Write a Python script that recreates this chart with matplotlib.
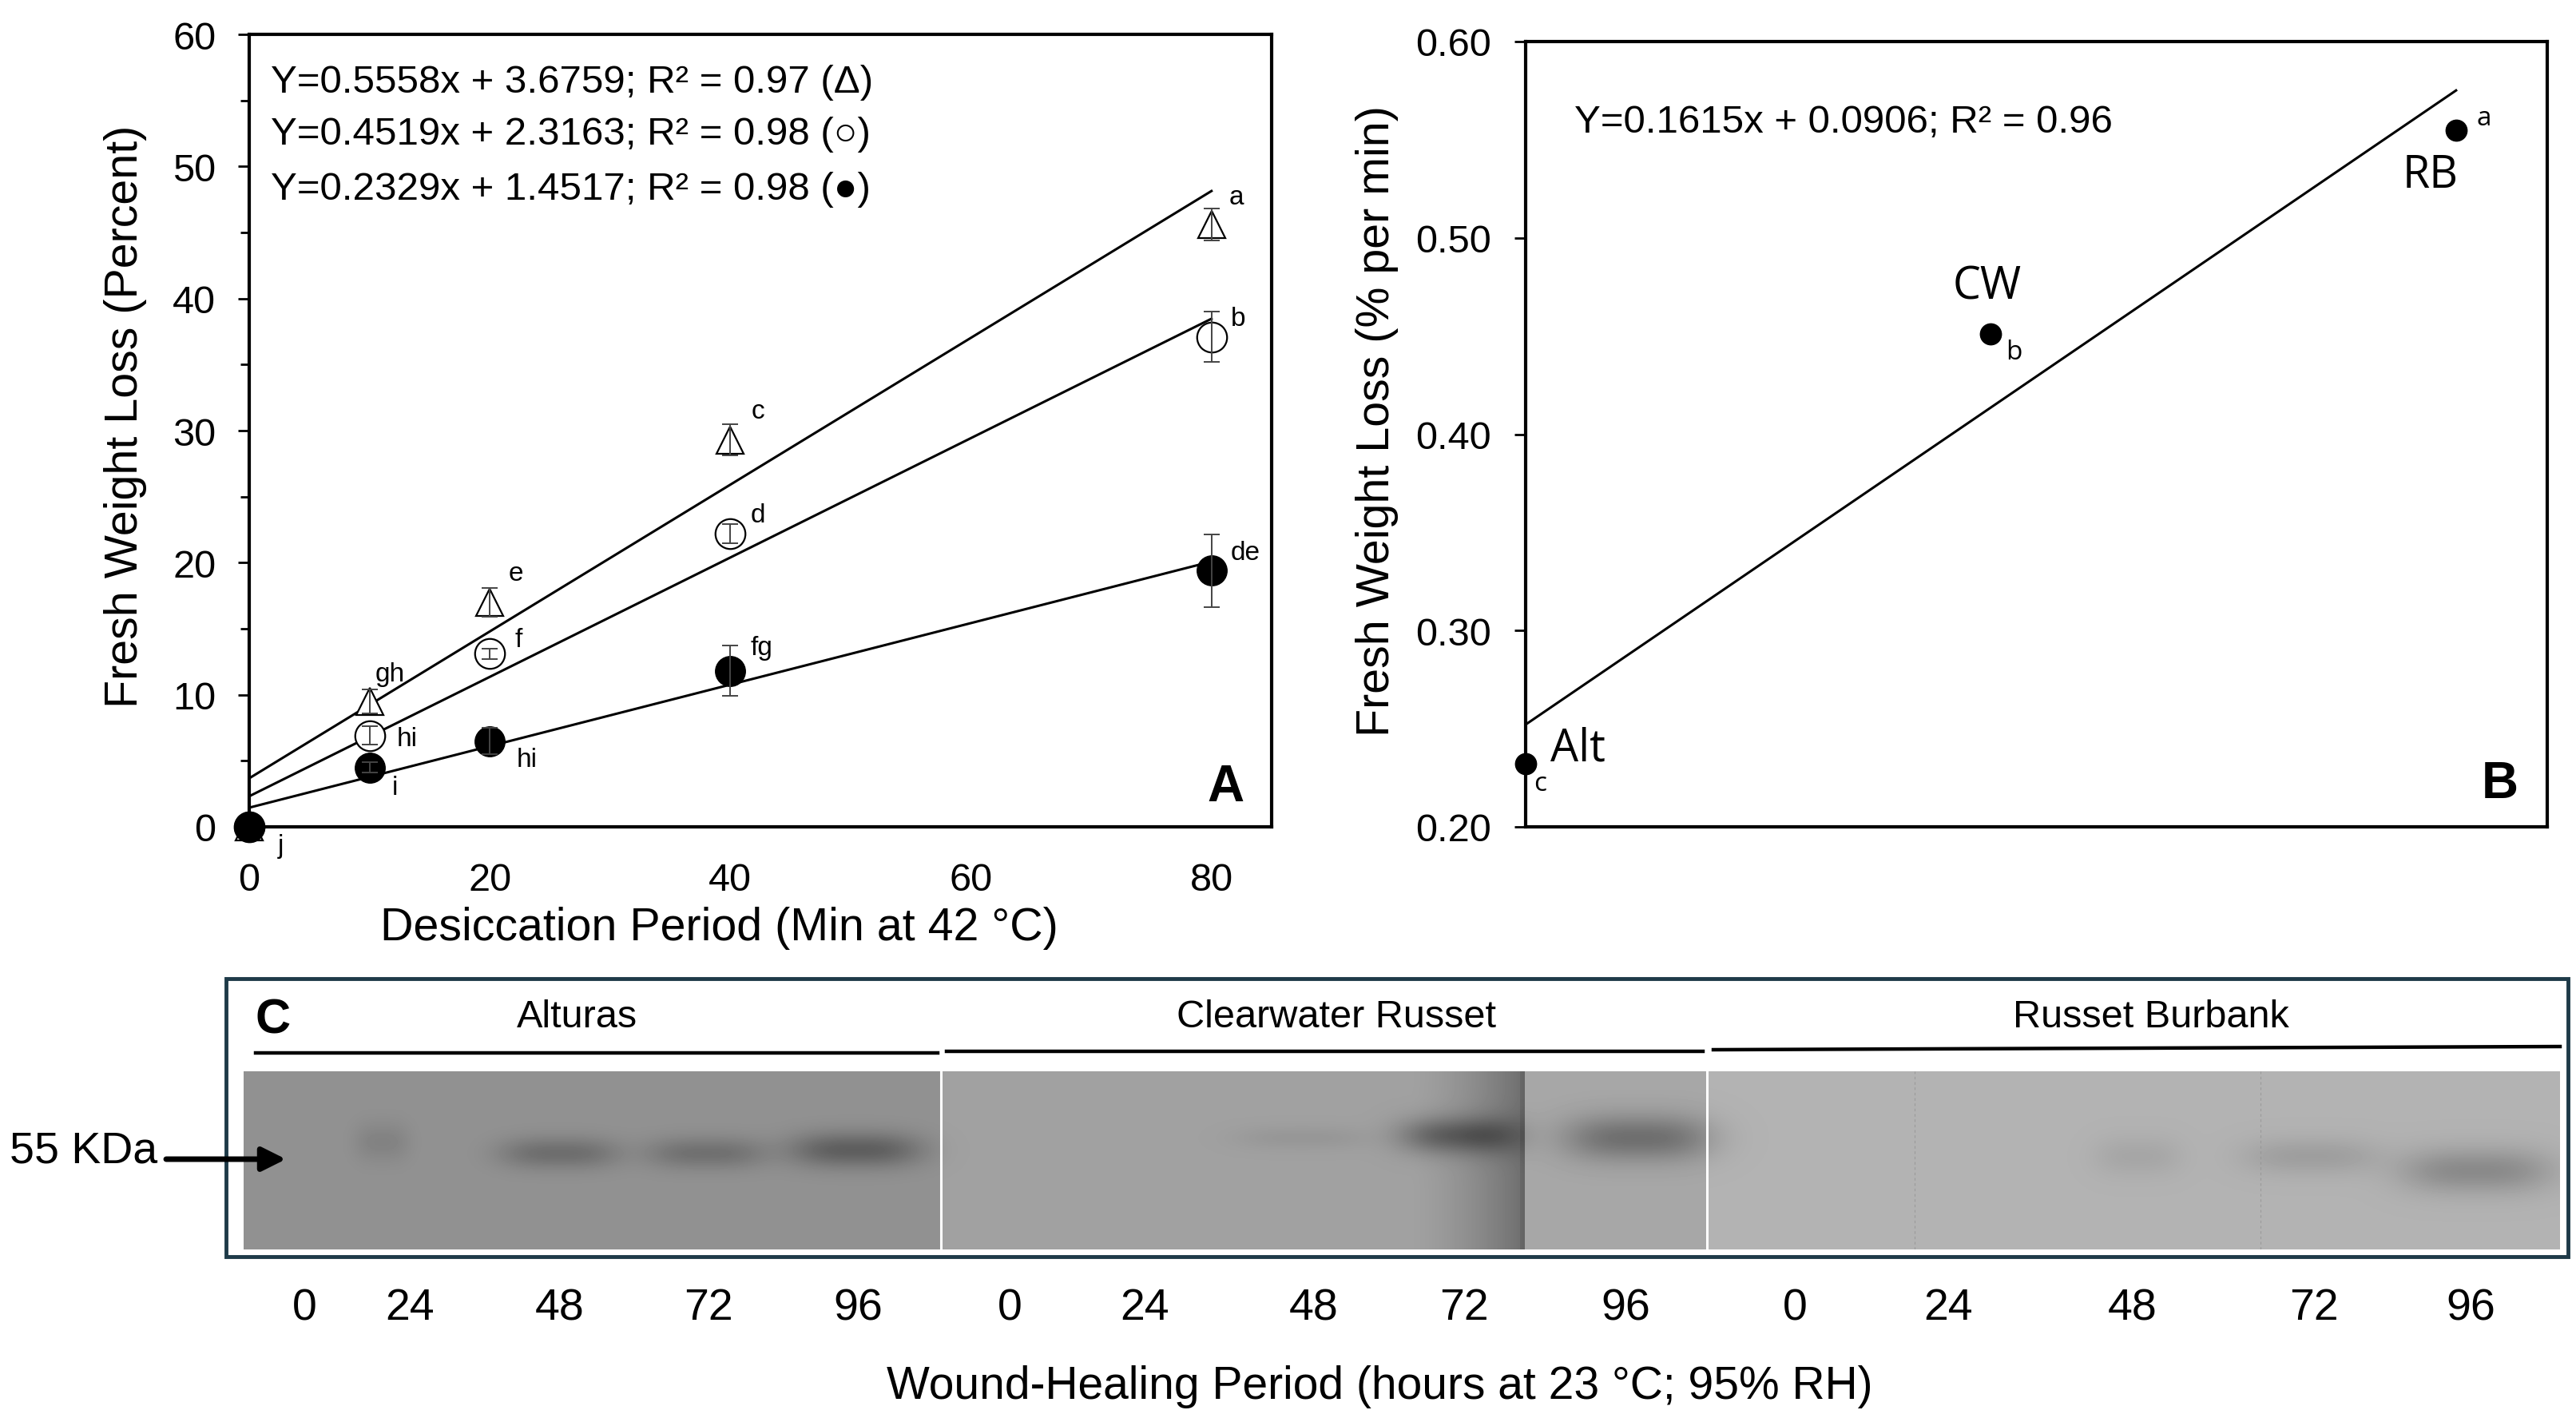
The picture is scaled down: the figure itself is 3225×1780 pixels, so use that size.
import numpy as np
import matplotlib
matplotlib.use('Agg')
import matplotlib.pyplot as plt
from matplotlib.patches import Rectangle
from matplotlib.lines import Line2D
from matplotlib.ticker import MultipleLocator

plt.rcParams['font.family'] = ['Liberation Sans', 'DejaVu Sans']

# ---------------- Panel A data ----------------
desic_min = [0, 10, 20, 40, 80]
tri_loss = [0, 9.5, 17.0, 29.3, 45.6]
tri_err = [0, 0.9, 1.1, 1.2, 1.2]
open_loss = [0, 6.9, 13.1, 22.2, 37.1]
open_err = [0, 0.7, 0.4, 0.75, 1.9]
fill_loss = [0, 4.5, 6.5, 11.8, 19.4]
fill_err = [0, 0.4, 1.0, 1.9, 2.75]
slopes_A = [0.5558, 0.4519, 0.2329]
intercepts_A = [3.6759, 2.3163, 1.4517]
eq_A = ["Y=0.5558x + 3.6759; R² = 0.97 (Δ)",
        "Y=0.4519x + 2.3163; R² = 0.98 (○)",
        "Y=0.2329x + 1.4517; R² = 0.98 (●)"]
letters_A = ['gh', 'e', 'c', 'a', 'hi', 'f', 'd', 'b', 'j', 'i', 'hi', 'fg', 'de']
letters_A_x = [11.7, 22.2, 42.3, 82.1, 13.1, 22.4, 42.3, 82.2, 2.65, 12.1, 23.1, 42.6, 82.8]
letters_A_y = [11.6, 19.2, 31.5, 47.7, 6.7, 14.2, 23.6, 38.5, -1.4, 3.0, 5.1, 13.6, 20.8]

# ---------------- Panel B data ----------------
cultivars = ['Alt', 'CW', 'RB']
cult_x = [1, 2, 3]
rate = [0.232, 0.451, 0.555]
grades_B = ['c', 'b', 'a']
slope_B = 0.1615
intercept_B = 0.0906
cult_lab_x = [1.113, 1.992, 2.945]
cult_lab_y = [0.240, 0.475, 0.532]
grade_lab_x = [1.031, 2.049, 3.06]
grade_lab_y = [0.222, 0.442, 0.561]

# ---------------- Panel C data ----------------
section_names = ['Alturas', 'Clearwater Russet', 'Russet Burbank']
lane_hours = ['0', '24', '48', '72', '96'] * 3
lane_pos = [76, 208, 396, 582, 769, 959, 1128, 1340, 1528, 1730, 1942, 2134, 2365, 2592, 2788]
section_edges = [0, 873, 1832, 2900]
section_gray = [0.57, 0.63, 0.70]
band_x = [173, 395, 579, 766, 1325, 1521, 1745, 2371, 2588, 2795]
band_y = [88, 102, 102, 98, 83, 80, 83, 106, 106, 124]
band_w = [70, 150, 150, 165, 170, 150, 185, 110, 170, 190]
band_h = [50, 40, 40, 44, 30, 46, 58, 50, 46, 56]
band_depth = [0.06, 0.14, 0.13, 0.20, 0.04, 0.24, 0.22, 0.05, 0.08, 0.16]

W_PX, H_PX = 3225, 1781
fig = plt.figure(figsize=(W_PX / 100, H_PX / 100), dpi=100)


def fx(p):
    return p / W_PX


def fy(p):
    return 1 - p / H_PX


# ================= Panel A =================
axA = fig.add_axes([fx(312), fy(1036), (1592 - 312) / W_PX, (1036 - 44) / H_PX])
xl = np.array([0, 80])
for s, b in zip(slopes_A, intercepts_A):
    axA.plot(xl, s * xl + b, color='black', lw=2.2, zorder=2)
axA.plot(desic_min, tri_loss, ls='none', marker='^', ms=25, mfc='white', mec='black',
         mew=1.6, clip_on=False, zorder=3)
axA.plot(desic_min, open_loss, ls='none', marker='o', ms=27, mfc='white', mec='black',
         mew=1.6, clip_on=False, zorder=4)
axA.plot(desic_min, fill_loss, ls='none', marker='o', ms=27, mfc='black', mec='black',
         mew=1.0, clip_on=False, zorder=5)
for yv, ev in [(tri_loss, tri_err), (open_loss, open_err), (fill_loss, fill_err)]:
    axA.errorbar(desic_min[1:], yv[1:], yerr=ev[1:], fmt='none', ecolor='#444444',
                 elinewidth=1.4, capsize=7, capthick=1.4, zorder=6)
axA.set_xlim(0, 85)
axA.set_ylim(0, 60)
axA.set_xticks([0, 20, 40, 60, 80])
axA.set_yticks([0, 10, 20, 30, 40, 50, 60])
axA.yaxis.set_minor_locator(MultipleLocator(5))
axA.tick_params(axis='y', which='major', direction='out', length=10, width=2,
                labelsize=35, pad=20)
axA.tick_params(axis='y', which='minor', direction='out', length=8, width=2)
axA.tick_params(axis='x', which='major', length=0, labelsize=35, pad=32)
for sp in axA.spines.values():
    sp.set_linewidth(3)
axA.set_xlabel('Desiccation Period (Min at 42 °C)', fontsize=41.3)
axA.set_ylabel('Fresh Weight Loss (Percent)', fontsize=41.3)
axA.xaxis.set_label_coords(0.46, -0.100)
axA.yaxis.set_label_coords(-0.100, 0.519)
for i, t in enumerate(eq_A):
    axA.text(0.021, [0.9405, 0.874, 0.805][i], t, transform=axA.transAxes,
             fontsize=35.5, ha='left', va='center')
for t, x, y in zip(letters_A, letters_A_x, letters_A_y):
    axA.text(x, y, t, fontsize=24, ha='center', va='center', clip_on=False)
axA.text(0.955, 0.050, 'A', transform=axA.transAxes, fontsize=46, fontweight='bold',
         ha='center', va='center')

# ================= Panel B =================
axB = fig.add_axes([fx(1910), fy(1036), (3189 - 1910) / W_PX, (1036 - 53) / H_PX])
xb = np.array([1, 3])
axB.plot(xb, slope_B * xb + intercept_B, color='black', lw=2.2, zorder=2)
axB.plot(cult_x, rate, ls='none', marker='o', ms=19, color='black', clip_on=False, zorder=4)
axB.set_xlim(1, 3.196)
axB.set_ylim(0.2, 0.6)
axB.set_yticks([0.2, 0.3, 0.4, 0.5, 0.6])
axB.set_yticklabels(['0.20', '0.30', '0.40', '0.50', '0.60'])
axB.set_xticks([])
axB.tick_params(axis='y', direction='out', length=10, width=2, labelsize=35, pad=21)
for sp in axB.spines.values():
    sp.set_linewidth(3)
axB.set_ylabel('Fresh Weight Loss (% per min)', fontsize=41.3)
axB.yaxis.set_label_coords(-0.124, 0.518)
axB.text(0.048, 0.898, 'Y=0.1615x + 0.0906; R² = 0.96', transform=axB.transAxes,
         fontsize=35.5, ha='left', va='center')
for t, x, y in zip(cultivars, cult_lab_x, cult_lab_y):
    axB.text(x, y, t, fontsize=40, family=['Open Sans', 'DejaVu Sans'],
             ha='center', va='center')
for t, x, y in zip(grades_B, grade_lab_x, grade_lab_y):
    axB.text(x, y, t, fontsize=24, family=['Open Sans', 'DejaVu Sans'],
             ha='center', va='center', clip_on=False)
axB.text(0.954, 0.055, 'B', transform=axB.transAxes, fontsize=46, fontweight='bold',
         ha='center', va='center')

# ================= Panel C =================
GW, GH = section_edges[-1], 223
gel = fig.add_axes([fx(305), fy(1565), (3205 - 305) / W_PX, (1565 - 1342) / H_PX])
yy, xx = np.mgrid[0:GH, 0:GW].astype(float)
img = np.zeros((GH, GW))
for k in range(3):
    img[:, section_edges[k]:section_edges[k + 1]] = section_gray[k]
# Clearwater darkening towards the 72/96 lane seam, lighter 96 lane
seam = 1604
ramp = np.clip((xx - 1460) / (seam - 1460), 0, 1) ** 1.5
img -= 0.2 * ramp * (xx < seam)
img[:, seam:section_edges[2]] = 0.655
img[:, seam - 6:seam] -= 0.04
for cx, cy, w, h, d in zip(band_x, band_y, band_w, band_h, band_depth):
    img -= d * np.exp(-np.abs((xx - cx) / (w / 2)) ** 3 - ((yy - cy) / (h / 2)) ** 2)
gel.imshow(img, cmap='gray', vmin=0, vmax=1, extent=(0, GW, GH, 0), aspect='auto',
           interpolation='bilinear')
for e in section_edges[1:-1]:
    gel.axvline(e, color='white', lw=2.2)
for dx in [2092, 2525]:
    gel.axvline(dx, color='#8c8c8c', lw=0.8, ls=(0, (3, 3)), alpha=0.6)
gel.set_xlim(0, GW)
gel.set_ylim(GH, 0)
gel.set_yticks([])
gel.set_xticks(lane_pos)
gel.set_xticklabels(lane_hours)
gel.tick_params(axis='x', length=0, labelsize=40, pad=34)
for sp in gel.spines.values():
    sp.set_visible(False)

# frame of panel C
fig.add_artist(Rectangle((fx(283), fy(1574)), fx(3215) - fx(283), fy(1226) - fy(1574),
                         transform=fig.transFigure, fill=False, edgecolor='#1e3a48', lw=3.5))
# cultivar headers with lines
hdr_x = [722, 1673, 2693]
seg = [(320, 1174, 1319, 1319), (1185, 2132, 1317, 1317), (2145, 3205, 1315, 1311)]
for name, cx, (x0, x1, y0, y1) in zip(section_names, hdr_x, seg):
    fig.text(fx(cx), fy(1273), name, fontsize=35, ha='center', va='center')
    fig.add_artist(Line2D([fx(x0), fx(x1)], [fy(y0), fy(y1)], transform=fig.transFigure,
                          color='black', lw=3.2))
fig.text(fx(342), fy(1278), 'C', fontsize=44, fontweight='bold', ha='center', va='center')
fig.text(fx(12), fy(1442), '55 KDa', fontsize=40, ha='left', va='center')
fig.add_artist(plt.Annotation('', xy=(fx(358), fy(1452)), xytext=(fx(208), fy(1452)),
                              xycoords='figure fraction', textcoords='figure fraction',
                              arrowprops=dict(arrowstyle='-|>', lw=5, color='black',
                                              mutation_scale=45, shrinkA=0, shrinkB=0)))
fig.text(fx(1727), fy(1736), 'Wound-Healing Period (hours at 23 °C; 95% RH)',
         fontsize=41, ha='center', va='center')

fig.savefig('out.png', dpi=100, facecolor='white')
